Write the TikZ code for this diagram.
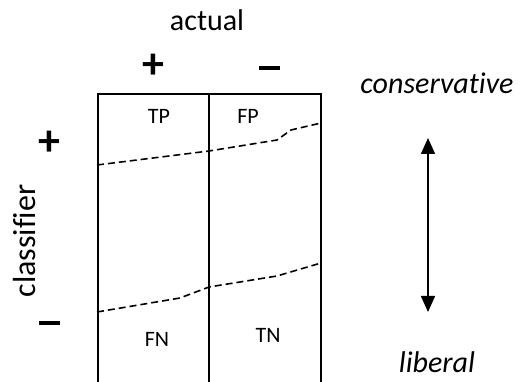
\documentclass[tikz,border=0pt]{standalone}
\usepackage{fontspec}
\setmainfont{Carlito}[Ligatures={NoCommon}]
\usetikzlibrary{arrows.meta}
\begin{document}
\begin{tikzpicture}[x=1pt,y=-1pt,
  big/.style={font=\fontsize{30}{36}\selectfont, inner sep=0pt},
  bigit/.style={font=\fontsize{30}{36}\selectfont\itshape, inner sep=0pt},
  sign/.style={font=\fontsize{44}{50}\selectfont\bfseries, inner sep=0pt},
  minussign/.style={inner sep=0pt, fill=black, minimum width=21pt, minimum height=3.8pt},
  cell/.style={font=\fontsize{22}{26}\selectfont, inner sep=0pt, anchor=base},
  boxline/.style={line width=2pt},
  thresh/.style={line width=1.6pt, dash pattern=on 7pt off 4pt, line join=round},
  rangearrow/.style={line width=1.6pt, {Triangle[width=14pt,length=16pt]}-{Triangle[width=14pt,length=16pt]}}]
\useasboundingbox (0,0) rectangle (520,382);
% grid
\coordinate (tl) at (98,94);
\coordinate (tm) at (209,94);
\coordinate (tr) at (321,94);
\coordinate (bl) at (98,384);
\coordinate (bm) at (209,384);
\coordinate (br) at (321,384);
\draw[boxline] (bl) -- (tl) -- (tr) -- (br);
\draw[boxline] (tm) -- (bm);
% thresholds
\coordinate (u1) at (97,165);
\coordinate (u2) at (209,151);
\coordinate (u3) at (277,140);
\coordinate (u4) at (291,130);
\coordinate (u5) at (321,123);
\draw[thresh] (u1) -- (u2) -- (u3) -- (u4) -- (u5);
\coordinate (l1) at (97,312);
\coordinate (l2) at (180,298);
\coordinate (l3) at (209,287);
\coordinate (l4) at (277,276);
\coordinate (l5) at (321,263);
\draw[thresh] (l1) -- (l2) -- (l3) -- (l4) -- (l5);
% labels
\node[big, anchor=base] (actual) at (207,31) {actual};
\node[sign] (ap) at (153,66) {+};
\node[minussign] (am) at (269,68) {};
\node[font=\fontsize{32}{38}\selectfont, inner sep=0pt, anchor=base, rotate=90] (classifier) at (35,241) {classifier};
\node[sign] (cp) at (49,143) {+};
\node[minussign] (cm) at (49,323) {};
\node[cell] (tp) at (159,124) {TP};
\node[cell] (fp) at (248,124) {FP};
\node[cell] (fn) at (157,347) {FN};
\node[cell] (tn) at (268,343) {TN};
\node[bigit, anchor=base] (cons) at (437,94) {conservative};
\node[bigit, anchor=base] (lib) at (437,373) {liberal};
% range arrow
\coordinate (at) at (428,138);
\coordinate (ab) at (428,312);
\draw[rangearrow] (at) -- (ab);
\end{tikzpicture}
\end{document}
